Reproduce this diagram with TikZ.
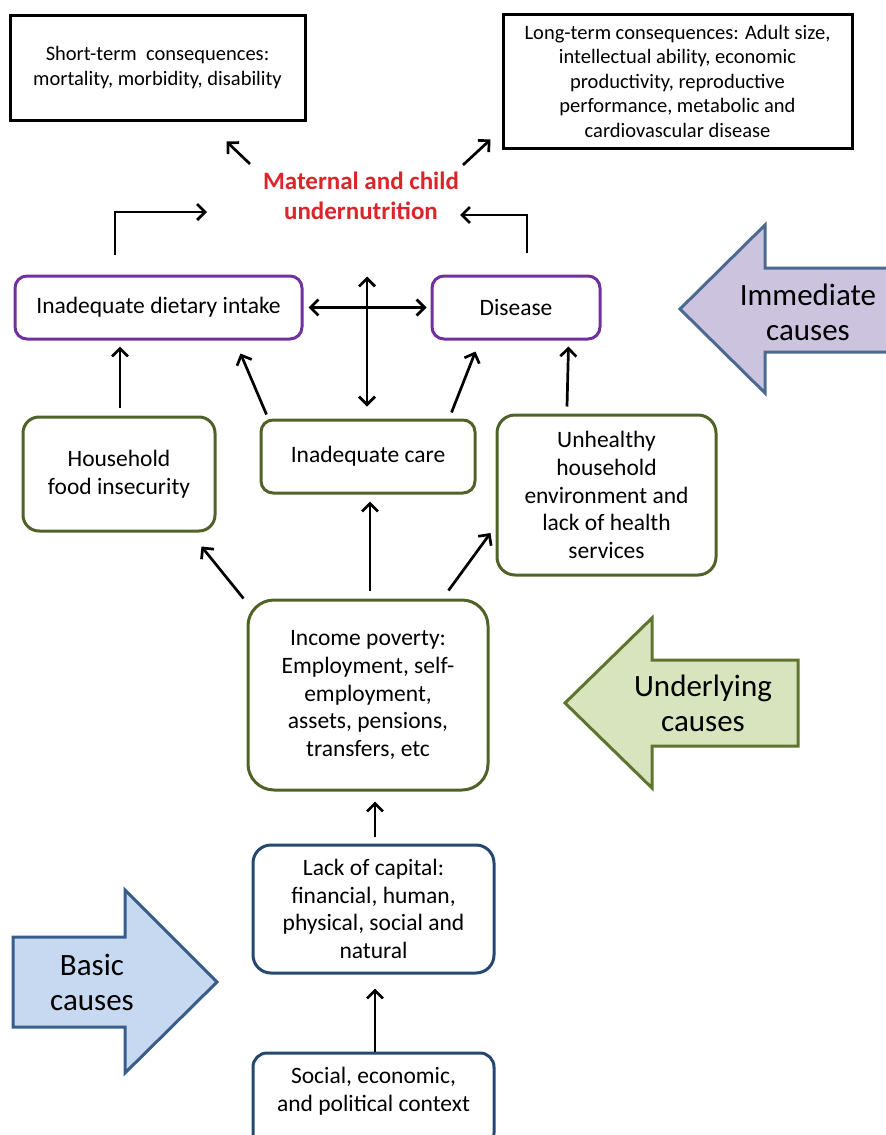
\documentclass[tikz,border=0pt]{standalone}
\usepackage{fontspec}
\setmainfont{Carlito}
\usetikzlibrary{arrows.meta,calc}
\definecolor{cpurple}{RGB}{112,48,160}
\definecolor{cgreen}{RGB}{79,98,40}
\definecolor{cblue}{RGB}{38,72,112}
\definecolor{cred}{RGB}{218,37,43}
\definecolor{imfill}{RGB}{204,195,222}
\definecolor{imline}{RGB}{75,105,145}
\definecolor{unfill}{RGB}{215,228,189}
\definecolor{unline}{RGB}{94,117,48}
\definecolor{bafill}{RGB}{198,217,241}
\definecolor{baline}{RGB}{56,93,138}
\begin{document}
\begin{tikzpicture}[x=1pt,y=-1pt,
  conbox/.style={draw=black,line width=3pt,align=center,inner sep=2pt,
    font=\fontsize{20.5}{24.5}\selectfont},
  causebox/.style={rounded corners=12pt,line width=3pt,align=center,inner sep=2pt,
    font=\fontsize{23.5}{27.8}\selectfont},
  imm/.style={causebox,draw=cpurple},
  und/.style={causebox,draw=cgreen},
  bas/.style={causebox,draw=cblue},
  arr/.style={line width=2.7pt,-{Straight Barb[length=8pt,width=16pt,line width=2.7pt]}},
  darr/.style={line width=2.7pt,{Straight Barb[length=8pt,width=16pt,line width=2.7pt]}-{Straight Barb[length=8pt,width=16pt,line width=2.7pt]}},
  bigarrow/.style={line width=3pt,line join=miter},
  biglabel/.style={align=center,font=\fontsize{31}{35}\selectfont}
]
\useasboundingbox (0,0) rectangle (886,1135);

% consequences
\node[conbox,minimum width=295pt,minimum height=105pt] (short) at (157.5,67.5)
  {Short-term\ \ consequences:\\mortality,\ morbidity,\ disability};
\node[conbox,minimum width=349pt,minimum height=134pt] (long) at (677.5,81)
  {Long-term consequences: Adult size,\\intellectual ability, economic\\productivity, reproductive\\performance,\ metabolic and\\cardiovascular disease};

\node[align=center,text=cred,font=\bfseries\fontsize{25}{30}\selectfont] (mcu) at (361,196)
  {Maternal and child\\undernutrition};

% immediate causes
\node[imm,minimum width=287pt,minimum height=63pt] (diet) at (158.5,307.5) {Inadequate dietary intake};
\node[imm,minimum width=168pt,minimum height=63pt] (dis) at (516,307.5) {Disease};

% underlying causes
\node[und,rounded corners=16pt,minimum width=192pt,minimum height=114pt] (food) at (119,474) {Household\\food insecurity};
\node[und,minimum width=214pt,minimum height=73pt] (care) at (368,456.5) {Inadequate care};
\node[und,rounded corners=18pt,minimum width=219pt,minimum height=160pt] (unh) at (606.5,495)
  {Unhealthy\\household\\environment and\\lack of health\\services};
\node[und,rounded corners=26pt,minimum width=240pt,minimum height=190pt] (inc) at (368,695)
  {Income poverty:\\Employment, self-\\employment,\\assets, pensions,\\transfers, etc};

% basic causes
\node[bas,rounded corners=18pt,minimum width=241pt,minimum height=128pt] (cap) at (373.5,909)
  {Lack of capital:\\financial, human,\\physical, social and\\natural};
\node[bas,rounded corners=14pt,minimum width=241pt,minimum height=94pt,text depth=22pt] (soc) at (373.5,1100)
  {Social, economic,\\and political context};

% arrows to/from undernutrition
\coordinate (mcuSW) at ($(mcu.center)+(-111,-32)$);
\coordinate (mcuSE) at ($(mcu.center)+(102,-31)$);
\draw[arr] (mcuSW) -- ($(short.south east)+(-80,20)$);
\draw[arr] (mcuSE) -- ($(long.south west)+(-11,-10)$);
\coordinate (mcuL) at ($(mcu.center)+(-154,16)$);
\coordinate (mcuR) at ($(mcu.center)+(99,19)$);
\draw[arr] ($(diet.north)+(-43.5,-20)$) |- (mcuL);
\draw[arr] ($(dis.north)+(11,-22)$) |- (mcuR);

% immediate interactions
\draw[darr] ($(diet.east)+(5,0)$) -- ($(dis.west)+(-4,0)$);
\draw[darr] ($(care.north)+(-1,-142)$) -- ($(care.north)+(-1,-12)$);

% underlying -> immediate
\draw[arr] ($(food.north)+(1,-8)$) -- ($(diet.south)+(-38.5,6)$);
\draw[arr] ($(care.north west)+(7,-4)$) -- ($(diet.south east)+(-63,13)$);
\draw[arr] ($(care.north east)+(-25,-6)$) -- ($(dis.south west)+(45,11)$);
\draw[arr] ($(unh.north)+(-39.5,-7)$) -- ($(dis.south east)+(-33,6)$);

% income -> underlying
\draw[arr] ($(inc.north west)+(-3,0)$) -- ($(food.south east)+(-15,14)$);
\draw[arr] ($(inc.north)+(2,-8)$) -- ($(care.south)+(2,7)$);
\draw[arr] ($(inc.north east)+(-41,-8)$) -- ($(unh.west)+(-5,38)$);

% basic
\draw[arr] ($(cap.north)+(1.5,-7)$) -- ($(inc.south)+(7,10)$);
\draw[arr] ($(soc.north)+(1.5,0)$) -- ($(cap.south)+(1.5,14)$);

% big arrows
\draw[bigarrow,draw=imline,fill=imfill]
  (680,309) -- (765,225) -- (765,268) -- (895,268) -- (895,352) -- (765,352) -- (765,393) -- cycle;
\node[biglabel] (immlab) at (808,312) {Immediate\\causes};

\draw[bigarrow,draw=unline,fill=unfill]
  (565,703) -- (652,618) -- (652,660) -- (798,660) -- (798,746) -- (652,746) -- (652,788) -- cycle;
\node[biglabel] (undlab) at (703,703) {Underlying\\causes};

\draw[bigarrow,draw=baline,fill=bafill]
  (13,937) -- (125,937) -- (125,890) -- (217,982) -- (125,1073) -- (125,1027) -- (13,1027) -- cycle;
\node[biglabel] (baslab) at (92,982) {Basic\\causes};
\end{tikzpicture}
\end{document}
